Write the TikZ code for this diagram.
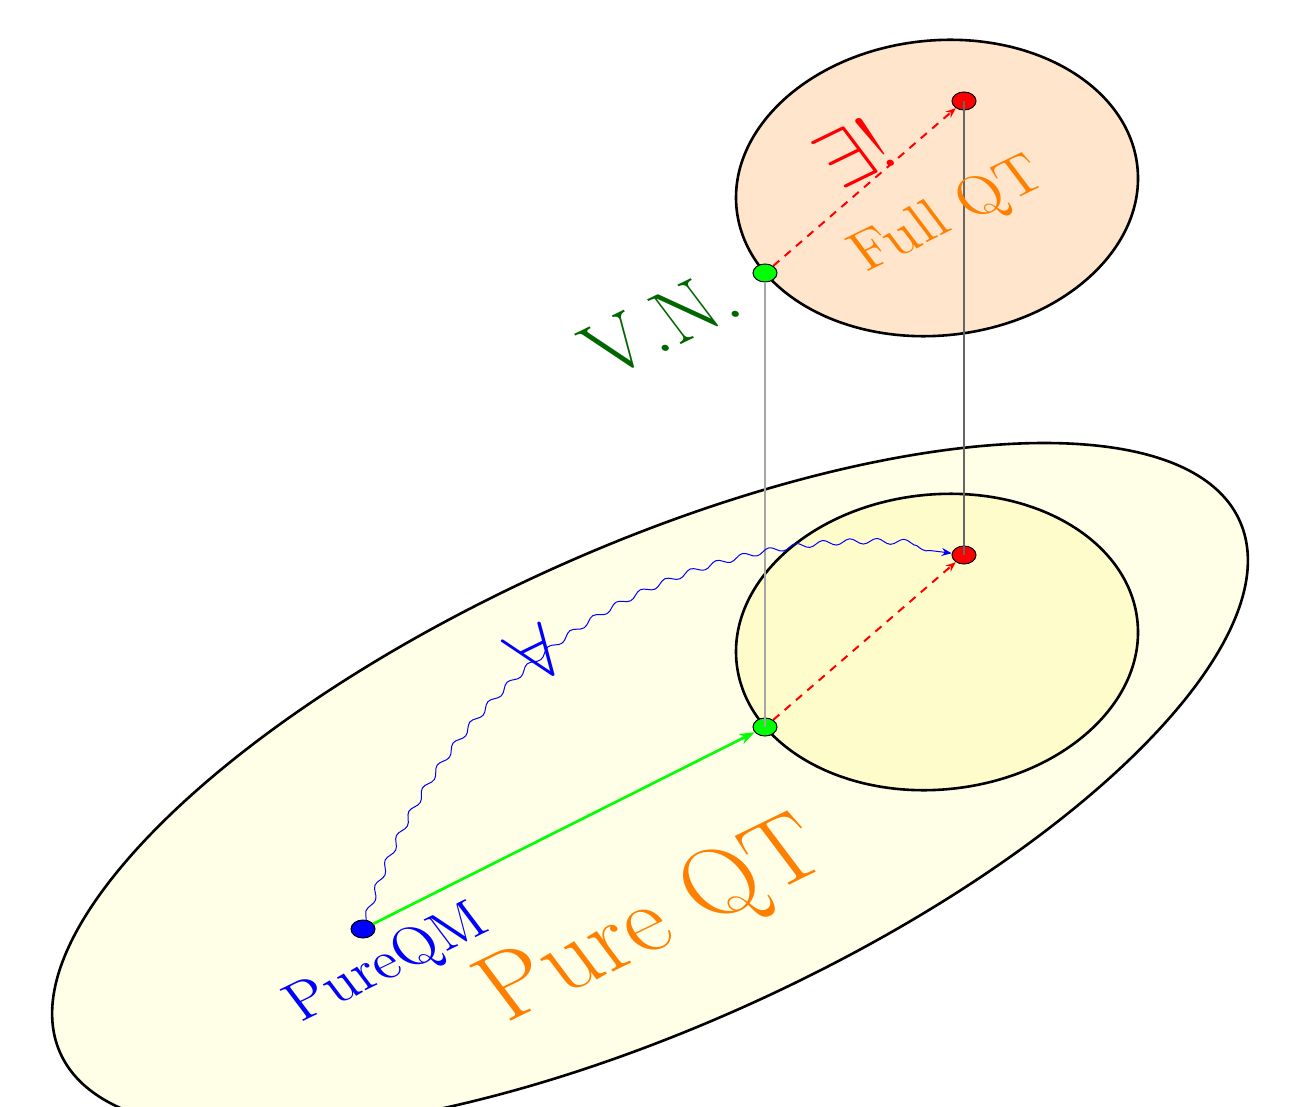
\documentclass[tikz,border=0pt]{standalone}
\usetikzlibrary{shapes.geometric,arrows.meta,decorations.pathmorphing}
\pgfdeclarelayer{bg}
\pgfdeclarelayer{mid}
\pgfsetlayers{bg,mid,main}
\tikzset{
  ell/.style={draw=black, line width=2.6pt},
  dotpt/.style={ellipse, draw=black, line width=1pt, minimum width=24pt, minimum height=18pt, inner sep=0pt},
  tt/.style={cm={0.8988,0.4384,-0.6018,0.7986,(0,0)}, inner sep=0pt, anchor=base},
  garrow/.style={draw={rgb,255:red,0;green,255;blue,0}, line width=2.6pt, -{Stealth[length=15pt,width=11pt]}},
  rarrow/.style={draw=red, line width=2pt, dash pattern=on 8pt off 7pt, -{Stealth[length=10pt,width=8pt]}},
  wavy/.style={draw=blue, line width=1pt, decorate, decoration={snake, amplitude=2.8pt, segment length=27pt, post length=12pt}, -{Stealth[length=10pt,width=8pt]}},
  vlinea/.style={draw=black!35, line width=1.3pt},
  vlineb/.style={draw=black!60, line width=1.3pt},
}
\begin{document}
\begin{tikzpicture}[x=1pt,y=-1pt]
\useasboundingbox (0,0) rectangle (1309,1107);
\begin{pgfonlayer}{bg}
  \path[ell, fill=yellow!10, rotate around={24.3:(650,787)}] (650,787) ellipse [x radius=647, y radius=239];
  \path[ell, fill=yellow!20, rotate around={6:(937,642)}] (937,642) ellipse [x radius=201.5, y radius=147.5];
  \path[ell, fill=orange!20, rotate around={6:(937,188)}] (937,188) ellipse [x radius=201.5, y radius=147.5];
\end{pgfonlayer}

\node[dotpt, fill=blue] (bq) at (363,929) {};
\node[dotpt, fill={rgb,255:red,0;green,255;blue,0}] (gb) at (765,727) {};
\node[dotpt, fill=red] (rb) at (964,555) {};
\node[dotpt, fill={rgb,255:red,0;green,255;blue,0}] (gt) at (765,273) {};
\node[dotpt, fill=red] (rt) at (964,101) {};

\draw[vlinea] (gb.center) -- (gt.south);
\draw[vlineb] (rb.center) -- (rt.center);

\draw[garrow] (bq) -- (gb);
\draw[rarrow] (gb) -- (rb);
\draw[rarrow] (gt) -- (rt);
\draw[wavy] (bq) to[bend left=40] (rb);

\node[tt, scale=4.07, text={rgb,255:red,255;green,128;blue,0}] (pqt) at (670,944) {\Huge Pure QT};
\node[tt, scale=4.0, text=blue] (pqm) at (397,976) {\Large PureQM};
\node[tt, scale=4.1, text={rgb,255:red,255;green,128;blue,0}] (fqt) at (958,228) {\Large Full QT};
\node[tt, scale=3.96, text={rgb,255:red,0;green,102;blue,0}] (vn) at (677,346) {\huge V.N.};
\node[tt, scale=4.0, text=red] (eu) at (872,176) {\huge $\exists!$};
\node[tt, scale=3.8, text=blue] (fa) at (553,675) {\huge $\forall$};
\end{tikzpicture}
\end{document}
